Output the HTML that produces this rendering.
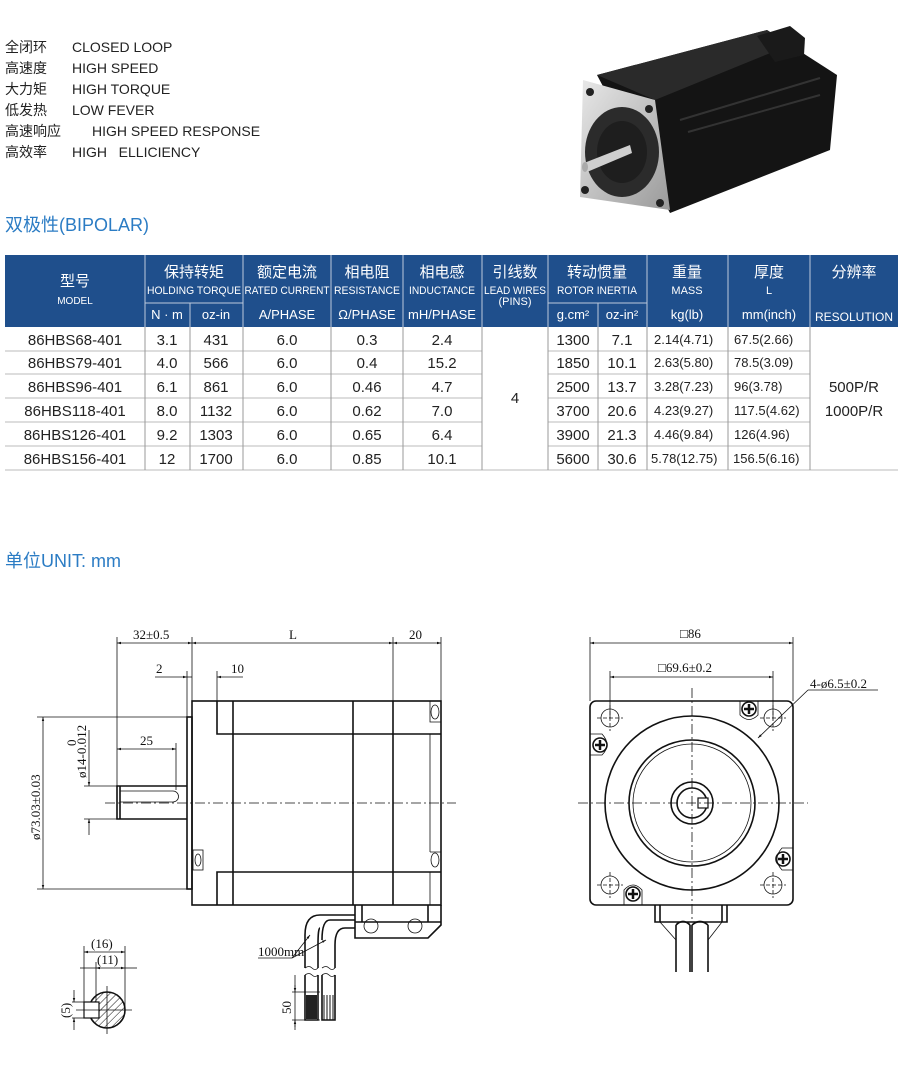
<!DOCTYPE html>
<html><head><meta charset="utf-8"><style>
body{margin:0;background:#fff;}
svg{display:block;font-family:"Liberation Sans","Noto Sans CJK SC",sans-serif;}
.t{font-size:14px;fill:#222;}
.h{fill:#fff;text-anchor:middle;}
.c{font-size:15px;fill:#222;text-anchor:middle;}
.d{font-family:"Liberation Serif","Noto Serif CJK SC",serif;font-size:13px;fill:#111;}
.k{stroke:#111;stroke-width:1.6;fill:none;}
.n{stroke:#111;stroke-width:0.8;fill:none;}
.cl{stroke:#111;stroke-width:0.8;stroke-dasharray:10,3,2,3;fill:none;}
</style></head><body>
<svg width="900" height="1077" viewBox="0 0 900 1077">
<defs>
<marker id="a" viewBox="0 0 10 10" refX="10" refY="5" markerWidth="8" markerHeight="5" orient="auto-start-reverse"><path d="M0,2 L10,5 L0,8z" fill="#111"/></marker>
<pattern id="hat" width="5" height="5" patternUnits="userSpaceOnUse" patternTransform="rotate(45)"><line x1="0" y1="0" x2="0" y2="5" stroke="#111" stroke-width="1"/></pattern>
<linearGradient id="sil" x1="0" y1="0" x2="1" y2="1"><stop offset="0" stop-color="#e8e8e8"/><stop offset="1" stop-color="#9a9a9a"/></linearGradient>
</defs>
<!-- top text -->
<g class="t">
<text x="5" y="52">全闭环</text><text x="72" y="52">CLOSED LOOP</text>
<text x="5" y="73">高速度</text><text x="72" y="73">HIGH SPEED</text>
<text x="5" y="94">大力矩</text><text x="72" y="94">HIGH TORQUE</text>
<text x="5" y="115">低发热</text><text x="72" y="115">LOW FEVER</text>
<text x="5" y="136">高速响应</text><text x="92" y="136">HIGH SPEED RESPONSE</text>
<text x="5" y="157">高效率</text><text x="72" y="157">HIGH&#160;&#160;&#160;ELLICIENCY</text>
</g>
<!-- photo -->
<g>
<polygon points="597,75 767,30 837,75 830,150 670,213" fill="#141414"/>
<polygon points="597,75 767,30 790,45 655,100" fill="#2a2a2a"/>
<polygon points="757,36 790,26 805,38 804,55 775,62" fill="#1a1a1a"/>
<line x1="680" y1="120" x2="820" y2="78" stroke="#333" stroke-width="2"/>
<line x1="688" y1="132" x2="820" y2="95" stroke="#333" stroke-width="2"/>
<polygon points="583,80 655,100 670,210 580,197" fill="url(#sil)"/>
<ellipse cx="622" cy="152" rx="37" ry="45" fill="#2b2b2b"/>
<ellipse cx="622" cy="152" rx="25" ry="31" fill="#1e1e1e"/>
<polygon points="584,163 630,145 632,153 587,172" fill="#cfcfcf"/>
<ellipse cx="585" cy="167" rx="3" ry="5" fill="#aaa"/>
<circle cx="590" cy="92" r="4" fill="#222"/><circle cx="649" cy="109" r="4" fill="#222"/>
<circle cx="585" cy="190" r="4" fill="#222"/><circle cx="660" cy="203" r="4" fill="#222"/>
</g>
<text x="5" y="231" font-size="18" fill="#2b7cc4">双极性(BIPOLAR)</text>
<!-- table -->
<rect x="5" y="255" width="893" height="72" fill="#1f4f8c"/>
<g stroke="#fff" stroke-width="1" opacity="0.7">
<line x1="145" y1="255" x2="145" y2="327"/><line x1="243" y1="255" x2="243" y2="327"/>
<line x1="331" y1="255" x2="331" y2="327"/><line x1="403" y1="255" x2="403" y2="327"/>
<line x1="482" y1="255" x2="482" y2="327"/><line x1="548" y1="255" x2="548" y2="327"/>
<line x1="647" y1="255" x2="647" y2="327"/><line x1="728" y1="255" x2="728" y2="327"/>
<line x1="810" y1="255" x2="810" y2="327"/>
<line x1="145" y1="303" x2="243" y2="303"/><line x1="548" y1="303" x2="647" y2="303"/>
<line x1="190" y1="303" x2="190" y2="327"/><line x1="598" y1="303" x2="598" y2="327"/>
</g>
<g class="h">
<text x="75" y="286" font-size="15">型号</text><text x="75" y="304" font-size="10">MODEL</text>
<text x="194" y="277" font-size="15">保持转矩</text><text x="194" y="294" font-size="11" textLength="94" lengthAdjust="spacingAndGlyphs">HOLDING TORQUE</text>
<text x="287" y="277" font-size="15">额定电流</text><text x="287" y="294" font-size="11" textLength="85" lengthAdjust="spacingAndGlyphs">RATED CURRENT</text>
<text x="367" y="277" font-size="15">相电阻</text><text x="367" y="294" font-size="11" textLength="66" lengthAdjust="spacingAndGlyphs">RESISTANCE</text>
<text x="442" y="277" font-size="15">相电感</text><text x="442" y="294" font-size="11" textLength="66" lengthAdjust="spacingAndGlyphs">INDUCTANCE</text>
<text x="515" y="277" font-size="15">引线数</text><text x="515" y="294" font-size="11" textLength="62" lengthAdjust="spacingAndGlyphs">LEAD WIRES</text><text x="515" y="305" font-size="11">(PINS)</text>
<text x="597" y="277" font-size="15">转动惯量</text><text x="597" y="294" font-size="11" textLength="80" lengthAdjust="spacingAndGlyphs">ROTOR INERTIA</text>
<text x="687" y="277" font-size="15">重量</text><text x="687" y="294" font-size="11">MASS</text>
<text x="769" y="277" font-size="15">厚度</text><text x="769" y="294" font-size="11">L</text>
<text x="854" y="277" font-size="15">分辨率</text>
<g font-size="13"><text x="167" y="319">N · m</text><text x="216" y="319">oz-in</text><text x="287" y="319">A/PHASE</text><text x="367" y="319">Ω/PHASE</text><text x="442" y="319">mH/PHASE</text><text x="573" y="319">g.cm²</text><text x="622" y="319">oz-in²</text><text x="687" y="319">kg(lb)</text><text x="769" y="319">mm(inch)</text><text x="854" y="321" font-size="12">RESOLUTION</text></g>
</g>
<g stroke="#bbb" stroke-width="1">
<line x1="5" y1="351" x2="482" y2="351"/><line x1="548" y1="351" x2="810" y2="351"/>
<line x1="5" y1="374" x2="482" y2="374"/><line x1="548" y1="374" x2="810" y2="374"/>
<line x1="5" y1="398" x2="482" y2="398"/><line x1="548" y1="398" x2="810" y2="398"/>
<line x1="5" y1="422" x2="482" y2="422"/><line x1="548" y1="422" x2="810" y2="422"/>
<line x1="5" y1="446" x2="482" y2="446"/><line x1="548" y1="446" x2="810" y2="446"/>
<line x1="5" y1="470" x2="898" y2="470"/>
</g>
<g stroke="#999" stroke-width="1">
<line x1="145" y1="327" x2="145" y2="470"/><line x1="190" y1="327" x2="190" y2="470"/><line x1="243" y1="327" x2="243" y2="470"/>
<line x1="331" y1="327" x2="331" y2="470"/><line x1="403" y1="327" x2="403" y2="470"/><line x1="482" y1="327" x2="482" y2="470"/>
<line x1="548" y1="327" x2="548" y2="470"/><line x1="598" y1="327" x2="598" y2="470"/><line x1="647" y1="327" x2="647" y2="470"/>
<line x1="728" y1="327" x2="728" y2="470"/><line x1="810" y1="327" x2="810" y2="470"/>
</g>
<g class="c">
<text x="75" y="345">86HBS68-401</text><text x="75" y="368">86HBS79-401</text><text x="75" y="392">86HBS96-401</text><text x="75" y="416">86HBS118-401</text><text x="75" y="440">86HBS126-401</text><text x="75" y="464">86HBS156-401</text>
<text x="167" y="345">3.1</text><text x="167" y="368">4.0</text><text x="167" y="392">6.1</text><text x="167" y="416">8.0</text><text x="167" y="440">9.2</text><text x="167" y="464">12</text>
<text x="216" y="345">431</text><text x="216" y="368">566</text><text x="216" y="392">861</text><text x="216" y="416">1132</text><text x="216" y="440">1303</text><text x="216" y="464">1700</text>
<text x="287" y="345">6.0</text><text x="287" y="368">6.0</text><text x="287" y="392">6.0</text><text x="287" y="416">6.0</text><text x="287" y="440">6.0</text><text x="287" y="464">6.0</text>
<text x="367" y="345">0.3</text><text x="367" y="368">0.4</text><text x="367" y="392">0.46</text><text x="367" y="416">0.62</text><text x="367" y="440">0.65</text><text x="367" y="464">0.85</text>
<text x="442" y="345">2.4</text><text x="442" y="368">15.2</text><text x="442" y="392">4.7</text><text x="442" y="416">7.0</text><text x="442" y="440">6.4</text><text x="442" y="464">10.1</text>
<text x="515" y="403">4</text>
<text x="573" y="345">1300</text><text x="573" y="368">1850</text><text x="573" y="392">2500</text><text x="573" y="416">3700</text><text x="573" y="440">3900</text><text x="573" y="464">5600</text>
<text x="622" y="345">7.1</text><text x="622" y="368">10.1</text><text x="622" y="392">13.7</text><text x="622" y="416">20.6</text><text x="622" y="440">21.3</text><text x="622" y="464">30.6</text>
<text x="854" y="392">500P/R</text><text x="854" y="416">1000P/R</text>
</g>
<g font-size="13" fill="#222">
<text x="654" y="344">2.14(4.71)</text><text x="654" y="367">2.63(5.80)</text><text x="654" y="391">3.28(7.23)</text><text x="654" y="415">4.23(9.27)</text><text x="654" y="439">4.46(9.84)</text><text x="651" y="463">5.78(12.75)</text>
<text x="734" y="344">67.5(2.66)</text><text x="734" y="367">78.5(3.09)</text><text x="734" y="391">96(3.78)</text><text x="734" y="415">117.5(4.62)</text><text x="734" y="439">126(4.96)</text><text x="733" y="463">156.5(6.16)</text>
</g>
<text x="5" y="567" font-size="18" fill="#2b7cc4">单位UNIT: mm</text>

<!-- left drawing -->
<g>
<rect x="192" y="701" width="249" height="204" class="k"/>
<rect x="187" y="717" width="5" height="172" class="k"/>
<path d="M187,786 H117 V819 H187" class="k"/>
<line x1="120" y1="786" x2="120" y2="819" class="k"/>
<path d="M120,791 H173 A5.5,5.5 0 0 1 173,802 H120" class="n"/>
<path d="M217,701 V734 H441 M217,905 V872 H441" class="k"/>
<line x1="233" y1="701" x2="233" y2="905" class="k"/>
<line x1="353" y1="701" x2="353" y2="905" class="k"/>
<line x1="393" y1="701" x2="393" y2="905" class="k"/>
<path d="M430,701 V722 H441 M430,734 V852 M430,852 H441 M430,872 V905" class="n"/>
<ellipse cx="435" cy="712" rx="4" ry="7" class="n"/><ellipse cx="435" cy="860" rx="4" ry="7" class="n"/>
<rect x="193" y="850" width="10" height="20" class="n"/><ellipse cx="198" cy="860" rx="3" ry="6" class="n"/>
<line x1="105" y1="803" x2="456" y2="803" class="cl"/>
<path d="M355,905 V938 H428 L441,925 V905 M355,922 H441 M362,905 V922 M428,905 V922" class="k"/>
<ellipse cx="371" cy="926" rx="7" ry="7" class="n"/><ellipse cx="415" cy="926" rx="7" ry="7" class="n"/>
<path d="M355,915 H320 Q305,915 305,935 V968 M355,928 H345 Q335,928 335,945 V968 M320,928 Q318,928 318,945 V968 M355,920 H330 Q322,920 322,940" class="k"/>
<path d="M305,968 q4,-3 7,0 t6,0 M322,968 q4,-3 7,0 t6,0" class="n"/>
<path d="M305,975 q4,-3 7,0 t6,0 M322,975 q4,-3 7,0 t6,0" class="n"/>
<path d="M305,975 V1020 H318 V975 M322,975 V1020 H335 V975" class="k"/>
<rect x="306" y="995" width="11" height="24" fill="#222"/>
<g stroke="#111" stroke-width="1"><line x1="324" y1="995" x2="324" y2="1020"/><line x1="327" y1="995" x2="327" y2="1020"/><line x1="330" y1="995" x2="330" y2="1020"/><line x1="333" y1="995" x2="333" y2="1020"/></g>
<line x1="258" y1="958" x2="292" y2="958" class="n"/>
<line x1="292" y1="958" x2="310" y2="935" class="n" marker-end="url(#a)"/>
<line x1="292" y1="958" x2="326" y2="940" class="n" marker-end="url(#a)"/>
<text x="258" y="956" class="d" font-size="11">1000mm</text>
<line x1="295" y1="975" x2="295" y2="1030" class="n"/>
<line x1="292" y1="992" x2="320" y2="992" class="n"/><line x1="292" y1="1020" x2="320" y2="1020" class="n"/>
<line x1="295" y1="985" x2="295" y2="992" class="n" marker-end="url(#a)"/><line x1="295" y1="1027" x2="295" y2="1020" class="n" marker-end="url(#a)"/>
<text transform="translate(291,1014) rotate(-90)" class="d">50</text>
<!-- dims -->
<line x1="117" y1="637" x2="117" y2="786" class="n"/>
<line x1="192" y1="637" x2="192" y2="701" class="n"/>
<line x1="393" y1="637" x2="393" y2="701" class="n"/>
<line x1="441" y1="637" x2="441" y2="701" class="n"/>
<line x1="117" y1="643" x2="192" y2="643" class="n" marker-start="url(#a)" marker-end="url(#a)"/>
<line x1="192" y1="643" x2="393" y2="643" class="n" marker-start="url(#a)" marker-end="url(#a)"/>
<line x1="393" y1="643" x2="441" y2="643" class="n" marker-start="url(#a)" marker-end="url(#a)"/>
<text x="133" y="639" class="d">32±0.5</text><text x="289" y="639" class="d">L</text><text x="409" y="639" class="d">20</text>
<line x1="187" y1="671" x2="187" y2="717" class="n"/><line x1="217" y1="671" x2="217" y2="701" class="n"/>
<line x1="155" y1="677" x2="187" y2="677" class="n" marker-end="url(#a)"/>
<line x1="243" y1="677" x2="217" y2="677" class="n" marker-end="url(#a)"/>
<line x1="187" y1="677" x2="192" y2="677" class="n"/>
<text x="156" y="673" class="d">2</text><text x="231" y="673" class="d">10</text>
<line x1="176" y1="743" x2="176" y2="790" class="n"/>
<line x1="117" y1="749" x2="176" y2="749" class="n" marker-start="url(#a)" marker-end="url(#a)"/>
<text x="140" y="745" class="d">25</text>
<line x1="84" y1="786" x2="117" y2="786" class="n"/><line x1="84" y1="819" x2="117" y2="819" class="n"/>
<line x1="89" y1="730" x2="89" y2="786" class="n" marker-end="url(#a)"/><line x1="89" y1="835" x2="89" y2="819" class="n" marker-end="url(#a)"/>
<text transform="translate(86,778) rotate(-90)" class="d" font-size="11">ø14-0.012</text>
<text transform="translate(76,746) rotate(-90)" class="d" font-size="8">0</text>
<line x1="37" y1="717" x2="187" y2="717" class="n"/><line x1="37" y1="889" x2="187" y2="889" class="n"/>
<line x1="43" y1="717" x2="43" y2="889" class="n" marker-start="url(#a)" marker-end="url(#a)"/>
<text transform="translate(40,840) rotate(-90)" class="d">ø73.03±0.03</text>
<!-- key section -->
<circle cx="107" cy="1010" r="18" fill="url(#hat)" stroke="#111" stroke-width="1.6"/>
<rect x="84" y="1002" width="15" height="16" fill="#fff" stroke="#111" stroke-width="1.2"/>
<line x1="84" y1="946" x2="84" y2="1002" class="n"/><line x1="125" y1="946" x2="125" y2="1010" class="n"/>
<line x1="96" y1="962" x2="96" y2="1002" class="n"/>
<line x1="84" y1="952" x2="125" y2="952" class="n" marker-start="url(#a)" marker-end="url(#a)"/>
<line x1="80" y1="968" x2="96" y2="968" class="n"/><line x1="96" y1="968" x2="125" y2="968" class="n" marker-start="url(#a)" marker-end="url(#a)"/><line x1="125" y1="968" x2="137" y2="968" class="n"/>
<text x="91" y="948" class="d">(16)</text><text x="97" y="964" class="d">(11)</text>
<line x1="72" y1="1002" x2="84" y2="1002" class="n"/><line x1="72" y1="1018" x2="84" y2="1018" class="n"/>
<line x1="74" y1="990" x2="74" y2="1002" class="n" marker-end="url(#a)"/><line x1="74" y1="1030" x2="74" y2="1018" class="n" marker-end="url(#a)"/>
<text transform="translate(70,1018) rotate(-90)" class="d" font-size="11">(5)</text>
<line x1="76" y1="1010" x2="132" y2="1010" class="n"/><line x1="107" y1="986" x2="107" y2="1034" class="n"/>
</g>

<!-- right drawing -->
<g>
<rect x="590" y="701" width="203" height="204" rx="6" class="k"/>
<circle cx="692" cy="803" r="87" class="k"/>
<circle cx="692" cy="803" r="63" class="k"/>
<circle cx="692" cy="803" r="59" class="n"/>
<circle cx="692" cy="803" r="21" class="k"/>
<circle cx="692" cy="803" r="15" class="k"/>
<rect x="698" y="798" width="10" height="10" fill="#fff" stroke="#111" stroke-width="1.2"/>
<line x1="578" y1="803" x2="808" y2="803" class="cl"/>
<line x1="692" y1="688" x2="692" y2="920" class="cl"/>
<g class="n">
<circle cx="610" cy="718" r="9"/><circle cx="773" cy="718" r="9"/><circle cx="610" cy="885" r="9"/><circle cx="773" cy="885" r="9"/>
<path d="M597,718 H623 M610,705 V731 M760,718 H786 M773,705 V731 M597,885 H623 M610,872 V898 M760,885 H786 M773,872 V898" stroke-dasharray="4,2"/>
</g>
<g>
<circle cx="749" cy="709" r="7" class="k"/><path d="M744,709 H754 M749,704 V714" stroke="#111" stroke-width="2.5"/>
<path d="M740,701 V715 Q749,724 758,715 V701" class="n"/>
<circle cx="600" cy="745" r="7" class="k"/><path d="M595,745 H605 M600,740 V750" stroke="#111" stroke-width="2.5"/>
<path d="M590,734 H602 Q612,745 602,755 H590" class="n"/>
<circle cx="783" cy="859" r="7" class="k"/><path d="M778,859 H788 M783,854 V864" stroke="#111" stroke-width="2.5"/>
<path d="M793,848 H782 Q772,859 782,870 H793" class="n"/>
<circle cx="633" cy="894" r="7" class="k"/><path d="M628,894 H638 M633,889 V899" stroke="#111" stroke-width="2.5"/>
<path d="M624,905 V890 Q633,880 642,890 V905" class="n"/>
</g>
<path d="M655,905 V922 H727 V905 M660,905 V922 M722,905 V922" class="k"/>
<path d="M660,922 L676,940 M722,922 L708,940" class="n"/>
<path d="M676,925 V972 M692,925 V972 M708,925 V972 M690,925 V972 M676,925 Q683,918 690,925 M692,925 Q700,918 708,925" class="k"/>
<line x1="590" y1="637" x2="590" y2="701" class="n"/><line x1="793" y1="637" x2="793" y2="701" class="n"/>
<line x1="590" y1="643" x2="793" y2="643" class="n" marker-start="url(#a)" marker-end="url(#a)"/>
<text x="680" y="638" class="d">□86</text>
<line x1="610" y1="671" x2="610" y2="718" class="n"/><line x1="773" y1="671" x2="773" y2="718" class="n"/>
<line x1="610" y1="677" x2="773" y2="677" class="n" marker-start="url(#a)" marker-end="url(#a)"/>
<text x="658" y="672" class="d">□69.6±0.2</text>
<text x="810" y="688" class="d">4-ø6.5±0.2</text>
<line x1="808" y1="690" x2="878" y2="690" class="n"/>
<line x1="808" y1="690" x2="758" y2="738" class="n" marker-end="url(#a)"/>
</g>
</svg>
</body></html>
